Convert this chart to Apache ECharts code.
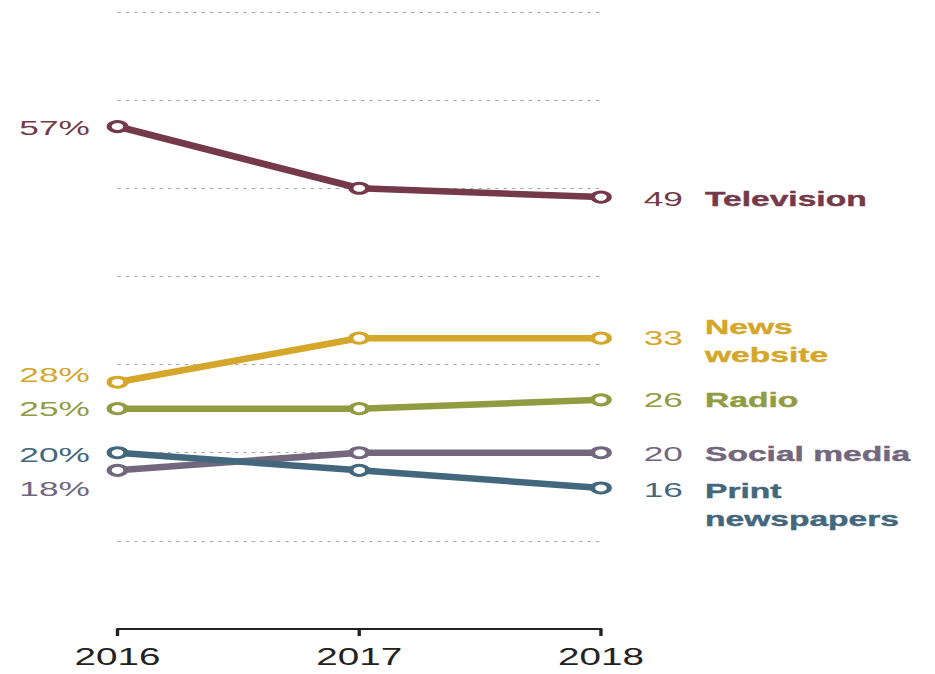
<!DOCTYPE html>
<html><head><meta charset="utf-8">
<script src="https://cdn.jsdelivr.net/npm/echarts@6/dist/echarts.min.js"></script>
<style>
html,body{margin:0;padding:0;background:#fff;overflow:hidden;width:935px;height:674px}
#chart{width:557px;height:674px;transform:scaleX(1.6786);transform-origin:0 0;}
</style></head><body><div id="chart"></div>
<script>
// ---- data ----
const years = ['2016', '2017', '2018'];
const television = [57, 50, 49];
const newsWebsite = [28, 33, 33];
const radio = [25, 25, 26];
const socialMedia = [18, 20, 20];
const printNewspapers = [20, 18, 16];
const seriesNames = ['Television', 'News\nwebsite', 'Radio', 'Social media', 'Print\nnewspapers'];
const yTicks = [0, 10, 20, 30, 40, 50, 60, 70];

// ---- styles ----
const colors = ['#743a49', '#d4a72a', '#919c42', '#73677e', '#43677d'];
const leftOffsets = [1, -7, 0, 18, 2];
const rightOffsets = [2, 0, 0, 1, 2];
const nameOffsets = [2, 3, 0, 1, 17];
const values = [television, newsWebsite, radio, socialMedia, printNewspapers];
const FONT = 'Liberation Sans, Arial, sans-serif';

const chart = echarts.init(document.getElementById('chart'), null, {renderer: 'svg'});
const series = [];
values.forEach((vals, s) => {
  const last = vals.length - 1;
  series.push({
    type: 'line',
    name: seriesNames[s],
    data: vals.map((v, i) => {
      if (i === 0) return {value: v, label: {show: true, position: 'left', distance: 10, formatter: v + '%', offset: [0, leftOffsets[s]]}};
      if (i === last) return {value: v, label: {show: true, position: 'right', distance: 19, formatter: String(v), offset: [0, rightOffsets[s]]}};
      return {value: v};
    }),
    symbol: 'circle',
    symbolSize: 10,
    showSymbol: true,
    lineStyle: {color: colors[s], width: 6.5},
    itemStyle: {color: '#fff', borderColor: colors[s], borderWidth: 3},
    label: {show: false, color: colors[s], fontFamily: FONT, fontSize: 21},
    emphasis: {disabled: true},
    silent: true,
    z: 3 + s
  });
  series.push({
    type: 'scatter',
    name: seriesNames[s] + ' label',
    data: [[years[last], vals[last]]],
    symbolSize: 0,
    itemStyle: {opacity: 1},
    label: {show: true, position: 'right', distance: 62, formatter: seriesNames[s], color: colors[s], opacity: 1,
      fontFamily: FONT, fontSize: 20, fontWeight: 'bold', lineHeight: 28, offset: [0, nameOffsets[s]],
      textBorderColor: colors[s], textBorderWidth: 0.4},
    emphasis: {disabled: true},
    silent: true
  });
});

chart.setOption({
  animation: false,
  grid: {left: 70, right: 199, top: 12, bottom: 45, containLabel: false},
  xAxis: {
    type: 'category', data: years, boundaryGap: false,
    axisLine: {show: true, lineStyle: {color: '#222', width: 2}},
    axisTick: {show: true, alignWithLabel: true, length: 7, lineStyle: {color: '#222', width: 2}},
    axisLabel: {color: '#222', fontFamily: FONT, fontSize: 23, margin: 17},
    z: 10
  },
  yAxis: {
    type: 'value', min: yTicks[0], max: yTicks[yTicks.length - 1], interval: 10,
    axisLine: {show: false}, axisTick: {show: false}, axisLabel: {show: false},
    splitLine: {show: true, lineStyle: {color: '#a8a8a8', type: [2, 3], width: 1}}
  },
  series: series
});
</script></body></html>
